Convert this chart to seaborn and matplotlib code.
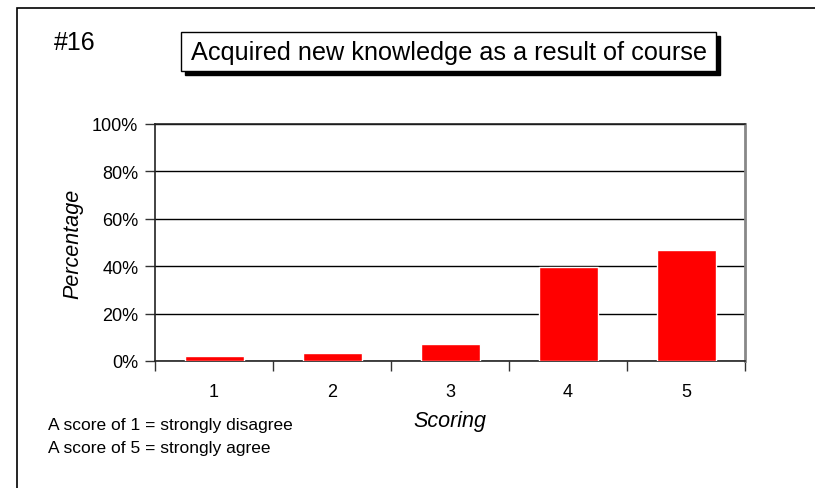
import matplotlib
matplotlib.use('Agg')
import matplotlib.pyplot as plt
import seaborn as sns
import pandas as pd
from matplotlib.patches import Rectangle
from matplotlib.ticker import PercentFormatter

# --- data ---
scores = ['1', '2', '3', '4', '5']
percent = [2.3, 3.5, 7.3, 39.6, 46.7]
y_ticks = [0, 20, 40, 60, 80, 100]

TITLE = 'Acquired new knowledge as a result of course'
TAG = '#16'
NOTES = ['A score of 1 = strongly disagree', 'A score of 5 = strongly agree']

sns.set_style('white')
plt.rcParams['font.family'] = ['Liberation Sans', 'DejaVu Sans']
plt.rcParams['text.color'] = 'black'
plt.rcParams['axes.labelcolor'] = 'black'
plt.rcParams['xtick.labelcolor'] = 'black'
plt.rcParams['ytick.labelcolor'] = 'black'

W, H = 815, 489
fig = plt.figure(figsize=(W / 100, H / 100), dpi=100)


def fx(px):
    return px / W


def fy(py):
    return 1 - py / H


# outer frame (only left and top visible)
fig.patches.append(Rectangle((fx(17), fy(560)), fx(900), 560 / H - 9 / H,
                             transform=fig.transFigure, fill=False,
                             edgecolor='black', linewidth=1.2, zorder=0))

ax = fig.add_axes([fx(155), fy(362), fx(745 - 155), (362 - 125) / H])

df = pd.DataFrame({'score': scores, 'pct': percent})
sns.barplot(data=df, x='score', y='pct', color='#ff0000', width=0.5,
            saturation=1, ax=ax, zorder=3)

ax.set_ylim(0, 100)
ax.set_xlim(-0.5, 4.5)
ax.set_yticks(y_ticks)
ax.yaxis.set_major_formatter(PercentFormatter(decimals=0))
ax.grid(axis='y', color='black', linewidth=1, zorder=1)
ax.set_axisbelow(True)

# ticks between categories
ax.set_xticks([i - 0.5 for i in range(6)], minor=True)
ax.tick_params(axis='x', which='major', length=0, pad=16, labelsize=13)
ax.tick_params(axis='x', which='minor', length=7, width=1, color='#333333', direction='out')
ax.tick_params(axis='y', length=7, width=1, color='#333333', direction='out', pad=5, labelsize=13)
ax.xaxis.set_ticks_position('bottom')
ax.yaxis.set_ticks_position('left')

for s in ['left', 'bottom', 'top']:
    ax.spines[s].set_color('#222222')
    ax.spines[s].set_linewidth(1.2)
ax.spines['right'].set_color('#888888')
ax.spines['right'].set_linewidth(2)

ax.set_xlabel('Scoring', fontsize=15.5, fontstyle='italic', labelpad=7)
ax.set_ylabel('Percentage', fontsize=15.5, fontstyle='italic', labelpad=6)

# title box with shadow
bx0, bx1, by0, by1 = 181, 716, 33, 72
fig.patches.append(Rectangle((fx(bx0 + 4), fy(by1 + 4)), fx(bx1 - bx0), (by1 - by0) / H,
                             transform=fig.transFigure, facecolor='black',
                             edgecolor='black', zorder=5))
fig.patches.append(Rectangle((fx(bx0), fy(by1)), fx(bx1 - bx0), (by1 - by0) / H,
                             transform=fig.transFigure, facecolor='white',
                             edgecolor='black', linewidth=1, zorder=6))
fig.text(fx((bx0 + bx1) / 2), fy(53), TITLE, ha='center', va='center',
         fontsize=18.2, zorder=7)

fig.text(fx(54), fy(43), TAG, ha='left', va='center', fontsize=18)

fig.text(fx(48), fy(426), NOTES[0], ha='left', va='center', fontsize=12.5)
fig.text(fx(48), fy(449), NOTES[1], ha='left', va='center', fontsize=12.5)

fig.savefig('out.png', dpi=100)
